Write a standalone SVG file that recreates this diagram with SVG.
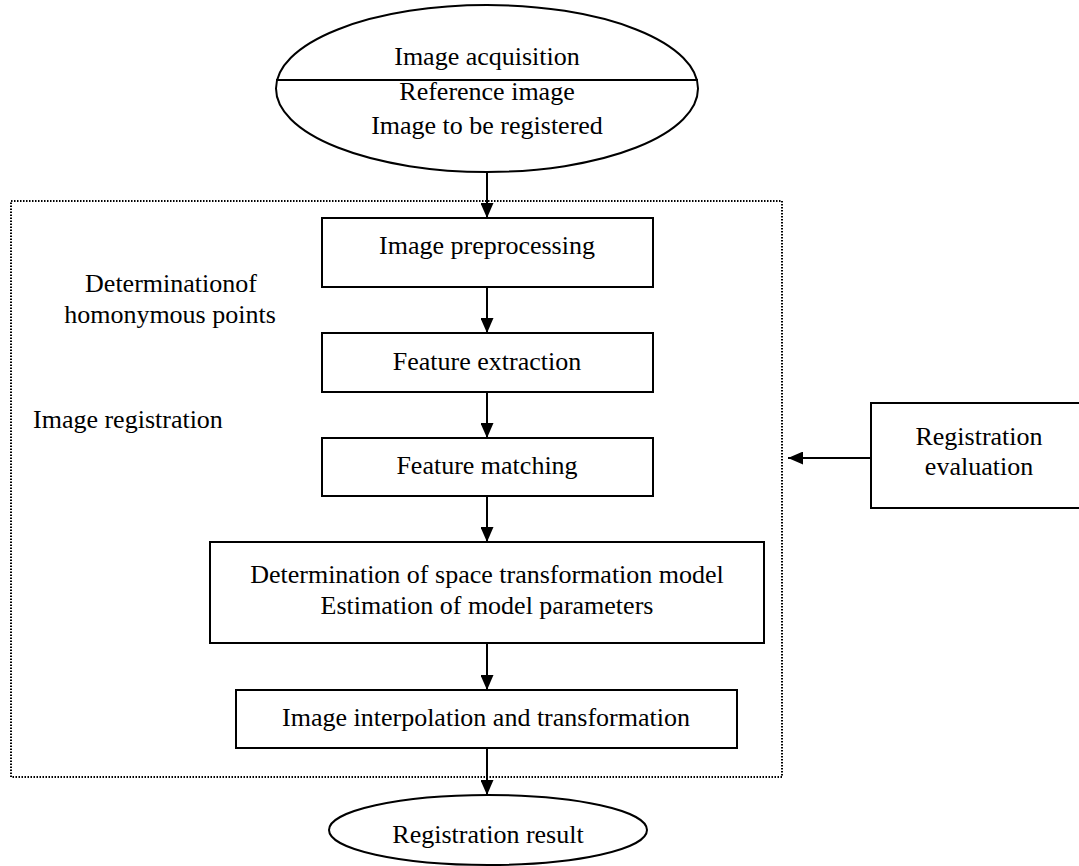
<svg xmlns="http://www.w3.org/2000/svg" width="1079" height="866" viewBox="0 0 1079 866">
<style>
  .shape { fill: #ffffff; stroke: #000000; stroke-width: 2; }
  .line { fill: none; stroke: #000000; stroke-width: 2; }
  .dotted { fill: none; stroke: #000000; stroke-width: 2; stroke-dasharray: 1.5 1.5; }
  .c { text-anchor: middle; }
</style>
<defs>
  <marker id="arrow" markerWidth="15" markerHeight="13" viewBox="0 0 15 13" refX="15" refY="6.5" orient="auto" markerUnits="userSpaceOnUse">
    <path d="M0,0 L15,6.5 L0,13 Z" fill="#000000"/>
  </marker>
</defs>
<rect width="1079" height="866" fill="#ffffff"/>

<g id="registration-region">
  <rect class="dotted" x="11" y="201" width="771" height="576"/>
</g>

<g font-family="Liberation Serif, Times New Roman, DejaVu Serif, serif" font-size="26" fill="#000000">
<g id="image-acquisition">
  <ellipse class="shape" cx="487" cy="88.5" rx="211" ry="83.5"/>
  <line class="line" x1="276" y1="80" x2="698" y2="80"/>
  <text class="c" x="487" y="65">Image acquisition</text>
  <text class="c" x="487" y="100">Reference image</text>
  <text class="c" x="487" y="134">Image to be registered</text>
</g>

<g id="image-preprocessing">
  <rect class="shape" x="322" y="218" width="331" height="69"/>
  <text class="c" x="487" y="254">Image preprocessing</text>
</g>

<g id="feature-extraction">
  <rect class="shape" x="322" y="333" width="331" height="59"/>
  <text class="c" x="487" y="370">Feature extraction</text>
</g>

<g id="feature-matching">
  <rect class="shape" x="322" y="438" width="331" height="58"/>
  <text class="c" x="487" y="474">Feature matching</text>
</g>

<g id="transformation-model">
  <rect class="shape" x="210" y="542" width="554" height="101"/>
  <text class="c" x="487" y="583">Determination of space transformation model</text>
  <text class="c" x="487" y="614">Estimation of model parameters</text>
</g>

<g id="interpolation">
  <rect class="shape" x="236" y="690" width="501" height="58"/>
  <text class="c" x="486" y="726">Image interpolation and transformation</text>
</g>

<g id="registration-result">
  <ellipse class="shape" cx="488" cy="830" rx="159" ry="35"/>
  <text class="c" x="488" y="843">Registration result</text>
</g>

<g id="registration-evaluation">
  <rect class="shape" x="871" y="403" width="220" height="105"/>
  <text class="c" x="979" y="445">Registration</text>
  <text class="c" x="979" y="475">evaluation</text>
</g>

<g id="labels">
  <text class="c" x="171" y="292">Determinationof</text>
  <text class="c" x="170" y="323">homonymous points</text>
  <text x="33" y="428">Image registration</text>
</g>
</g>

<g id="connectors">
  <line class="line" x1="487" y1="172" x2="487" y2="218" marker-end="url(#arrow)"/>
  <line class="line" x1="487" y1="287" x2="487" y2="333" marker-end="url(#arrow)"/>
  <line class="line" x1="487" y1="392" x2="487" y2="438" marker-end="url(#arrow)"/>
  <line class="line" x1="487" y1="496" x2="487" y2="542" marker-end="url(#arrow)"/>
  <line class="line" x1="487" y1="643" x2="487" y2="690" marker-end="url(#arrow)"/>
  <line class="line" x1="487" y1="748" x2="487" y2="795" marker-end="url(#arrow)"/>
  <line class="line" x1="871" y1="458" x2="788" y2="458" marker-end="url(#arrow)"/>
</g>
</svg>
